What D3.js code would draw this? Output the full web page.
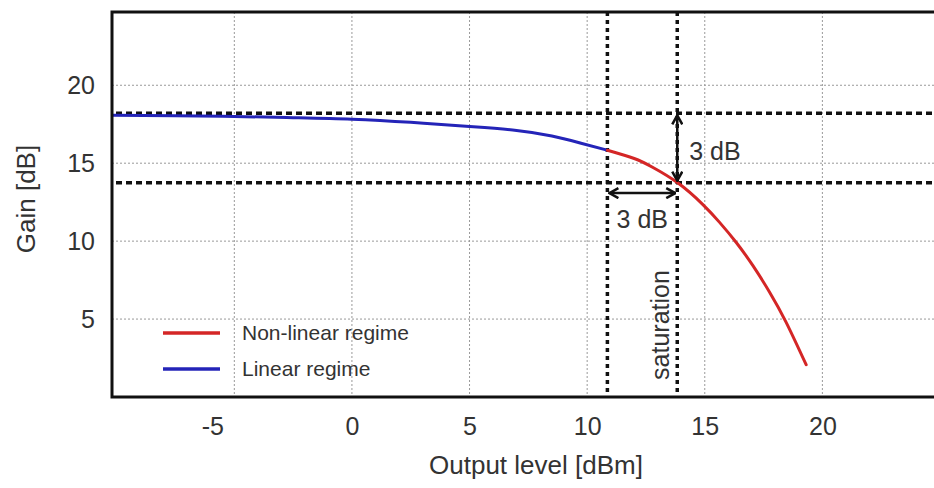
<!DOCTYPE html>
<html>
<head>
<meta charset="utf-8">
<script src="https://cdn.jsdelivr.net/npm/d3@7"></script>
<style>
  body { margin: 0; background: #fff; }
  svg { display: block; font-family: "Liberation Sans", Arial, sans-serif; }
  .tick text { fill: #333; }
</style>
</head>
<body>
<div class="chart-container"></div>
<script>
//! DATA
const linearX = [-10.2, -7.5, -5, -2.5, 0, 2.5, 5, 7, 8.5, 9.7, 10.86];
const linearGain = [18.08, 18.05, 18.0, 17.92, 17.82, 17.62, 17.35, 17.1, 16.75, 16.3, 15.83];
const nonLinearX = [10.86, 12, 12.78, 13.85, 14.91, 15.62, 16.33, 17.04, 17.75, 18.46, 19.31];
const nonLinearGain = [15.83, 15.3, 14.74, 13.74, 12.36, 11.22, 9.93, 8.44, 6.74, 4.79, 2.07];
const xTicks = [-5, 0, 5, 10, 15, 20];
const yTicks = [5, 10, 15, 20];
const refGain = [18.2, 13.75];      // small-signal gain, gain at saturation
const refLevel = [10.86, 13.83];    // output level 3 dB before, at saturation
const legendNames = ['Non-linear regime', 'Linear regime'];

//! CONSTS
const width = 934;
const height = 488;
const red = '#d42626';
const blue = '#2424b8';

const svg = d3.select('.chart-container')
  .append('svg')
  .attr('width', width)
  .attr('height', height);

const x = d3.scaleLinear().domain([-10.2, 25]).range([112, 940]);
const y = d3.scaleLinear().domain([0, 24.7]).range([397, 12]);

//! GRID
svg.append('g')
  .selectAll('line')
  .data(xTicks)
  .join('line')
  .attr('x1', d => x(d)).attr('x2', d => x(d))
  .attr('y1', y(24.7)).attr('y2', y(0))
  .attr('stroke', '#999').attr('stroke-width', 1).attr('stroke-dasharray', '2,2');

svg.append('g')
  .selectAll('line')
  .data(yTicks)
  .join('line')
  .attr('x1', x(-10.2)).attr('x2', width)
  .attr('y1', d => y(d)).attr('y2', d => y(d))
  .attr('stroke', '#999').attr('stroke-width', 1).attr('stroke-dasharray', '2,2');

//! AXES
const xAxis = svg.append('g')
  .attr('transform', `translate(0,${y(0)})`)
  .call(d3.axisBottom(x).tickValues(xTicks).tickSize(0).tickPadding(20).tickFormat(d => String(d)));
xAxis.select('.domain').remove();
xAxis.selectAll('text').attr('font-size', 25).attr('font-family', null)
  .attr('dx', d => d < 0 ? -22 : 0);

const yAxis = svg.append('g')
  .attr('transform', `translate(${x(-10.2)},0)`)
  .call(d3.axisLeft(y).tickValues(yTicks).tickSize(0).tickPadding(17));
yAxis.select('.domain').remove();
yAxis.selectAll('text').attr('font-size', 25).attr('font-family', null);

svg.append('text')
  .attr('x', 536).attr('y', 474)
  .attr('text-anchor', 'middle')
  .attr('font-size', 26).attr('fill', '#333')
  .text('Output level [dBm]');

svg.append('text')
  .attr('transform', 'translate(35,199) rotate(-90)')
  .attr('text-anchor', 'middle')
  .attr('font-size', 26).attr('fill', '#333')
  .text('Gain [dB]');

//! REFERENCE LINES
svg.append('g')
  .selectAll('line')
  .data(refGain)
  .join('line')
  .attr('x1', x(-10.2) + 4).attr('x2', width)
  .attr('y1', d => y(d)).attr('y2', d => y(d))
  .attr('stroke', '#111').attr('stroke-width', 3.5).attr('stroke-dasharray', '6,4');

svg.append('g')
  .selectAll('line')
  .data(refLevel)
  .join('line')
  .attr('x1', d => x(d)).attr('x2', d => x(d))
  .attr('y1', y(24.7)).attr('y2', y(0))
  .attr('stroke', '#111').attr('stroke-width', 3.5).attr('stroke-dasharray', '4,4');

//! CURVES
const line = d3.line().x(d => x(d[0])).y(d => y(d[1])).curve(d3.curveNatural);

svg.append('path')
  .datum(d3.zip(linearX, linearGain))
  .attr('d', line)
  .attr('fill', 'none').attr('stroke', blue).attr('stroke-width', 3);

svg.append('path')
  .datum(d3.zip(nonLinearX, nonLinearGain))
  .attr('d', line)
  .attr('fill', 'none').attr('stroke', red).attr('stroke-width', 3)
  .attr('stroke-linecap', 'round');

//! ARROWS
svg.append('defs').append('marker')
  .attr('id', 'head')
  .attr('viewBox', '0 0 12 12')
  .attr('refX', 11).attr('refY', 6)
  .attr('markerWidth', 12).attr('markerHeight', 12)
  .attr('markerUnits', 'userSpaceOnUse')
  .attr('orient', 'auto-start-reverse')
  .append('path')
  .attr('d', 'M2,1 L11,6 L2,11')
  .attr('fill', 'none').attr('stroke', '#111').attr('stroke-width', 2.5);

svg.append('line')
  .attr('x1', x(refLevel[1])).attr('x2', x(refLevel[1]))
  .attr('y1', y(refGain[0]) + 2).attr('y2', y(refGain[1]) - 2)
  .attr('stroke', '#111').attr('stroke-width', 2.5)
  .attr('marker-start', 'url(#head)').attr('marker-end', 'url(#head)');

svg.append('line')
  .attr('x1', x(refLevel[0]) + 2).attr('x2', x(refLevel[1]) - 2)
  .attr('y1', y(13.08)).attr('y2', y(13.08))
  .attr('stroke', '#111').attr('stroke-width', 2.5)
  .attr('marker-start', 'url(#head)').attr('marker-end', 'url(#head)');

svg.append('text')
  .attr('x', x(refLevel[1]) + 12).attr('y', 160)
  .attr('font-size', 25).attr('fill', '#333')
  .text('3 dB');

svg.append('text')
  .attr('x', (x(refLevel[0]) + x(refLevel[1])) / 2).attr('y', 228)
  .attr('text-anchor', 'middle')
  .attr('font-size', 25).attr('fill', '#333')
  .text('3 dB');

svg.append('text')
  .attr('transform', `translate(${x(refLevel[1]) - 8},325) rotate(-90)`)
  .attr('text-anchor', 'middle')
  .attr('font-size', 25).attr('fill', '#333')
  .text('saturation');

//! LEGEND
const legend = svg.append('g')
  .selectAll('g')
  .data(legendNames)
  .join('g')
  .attr('transform', (d, i) => `translate(163,${333 + i * 36})`);

legend.append('line')
  .attr('x1', 0).attr('x2', 57)
  .attr('stroke', (d, i) => i === 0 ? red : blue)
  .attr('stroke-width', 3.5);

legend.append('text')
  .attr('x', 79).attr('dy', '0.35em')
  .attr('font-size', 21).attr('fill', '#333')
  .text(d => d);

//! FRAME
svg.append('rect')
  .attr('x', x(-10.2)).attr('y', y(24.7))
  .attr('width', 840).attr('height', y(0) - y(24.7))
  .attr('fill', 'none').attr('stroke', '#111').attr('stroke-width', 3);
</script>
</body>
</html>
